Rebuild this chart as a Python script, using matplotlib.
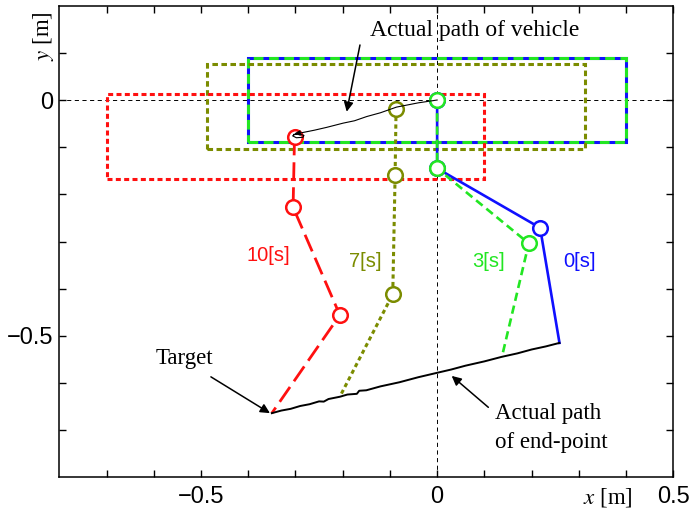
import numpy as np
import matplotlib
matplotlib.use("Agg")
import matplotlib.pyplot as plt
from matplotlib.patches import Rectangle

plt.rcParams['lines.scale_dashes'] = False
plt.rcParams['mathtext.fontset'] = 'stix'

# ---------------- data ----------------
time_labels = ['0[s]', '3[s]', '7[s]', '10[s]']
colors = ['#1010ff', '#22e622', '#7b8c00', '#ff1010']

# arm joints: vehicle base -> joint1 -> joint2 -> end-point
arm0_x = [0.0, 0.0, 0.218, 0.259]
arm0_y = [0.0, -0.145, -0.271, -0.515]
arm3_x = [0.0, 0.0, 0.194, 0.137]
arm3_y = [0.0, -0.145, -0.304, -0.545]
arm7_x = [-0.087, -0.089, -0.094, -0.206]
arm7_y = [-0.020, -0.160, -0.412, -0.629]
arm10_x = [-0.302, -0.305, -0.206, -0.350]
arm10_y = [-0.079, -0.2275, -0.456, -0.664]

# vehicle footprint centres
veh_cx = [0.0, 0.0, -0.087, -0.300]
veh_cy = [0.0, 0.0, -0.014, -0.078]
veh_w = 0.8
veh_h = 0.18

# actual path of vehicle
vpath_x = [0.0, -0.04, -0.086, -0.12, -0.149, -0.175, -0.199, -0.234, -0.26, -0.29,
           -0.300, -0.306, -0.298, -0.284, -0.282, -0.292, -0.304]
vpath_y = [0.0, -0.006, -0.015, -0.027, -0.035, -0.044, -0.049, -0.058, -0.064, -0.070,
           -0.072, -0.076, -0.080, -0.079, -0.075, -0.072, -0.073]

# actual path of end-point
epath_x = [0.259, 0.23, 0.20, 0.17, 0.137, 0.10, 0.06, 0.03, 0.0, -0.04, -0.08, -0.12,
           -0.15, -0.165, -0.17, -0.19, -0.206, -0.23, -0.24, -0.25, -0.27, -0.29, -0.31,
           -0.33, -0.35]
epath_y = [-0.515, -0.5225, -0.5290, -0.5372, -0.5445, -0.5542, -0.5633, -0.5714, -0.5784,
           -0.5878, -0.5985, -0.6072, -0.6155, -0.6165, -0.6230, -0.6245, -0.6292, -0.6340,
           -0.6395, -0.6390, -0.6450, -0.6488, -0.6548, -0.6585, -0.6640]

# ---------------- figure ----------------
fig = plt.figure(figsize=(6.93, 5.16), dpi=100)
ax = fig.add_axes([0.08557, 0.07500, 0.88600, 0.91395])
ax.set_xlim(-0.8, 0.5)
ax.set_ylim(-0.8, 0.2)

# reference lines
ax.axhline(0, color='k', lw=0.7, ls=(0, (3, 2.5)), zorder=1)
ax.axvline(0, color='k', lw=0.7, ls=(0, (3, 2.5)), zorder=1)

rect_styles = [
    dict(ls='-', lw=2.2),
    dict(ls=(0, (7, 4)), lw=2.2),
    dict(ls=(0, (4, 2.5)), lw=2.2),
    dict(ls=(0, (3.6, 2.4)), lw=2.2),
]
arm_styles = [
    dict(ls='-', lw=1.9),
    dict(ls=(0, (6, 3.5)), lw=1.9),
    dict(ls=(0, (3, 2.4)), lw=2.2),
    dict(ls=(0, (13, 5)), lw=2.0),
]
arms_x = [arm0_x, arm3_x, arm7_x, arm10_x]
arms_y = [arm0_y, arm3_y, arm7_y, arm10_y]

for i in [3, 2, 0, 1]:
    r = Rectangle((veh_cx[i] - veh_w / 2, veh_cy[i] - veh_h / 2), veh_w, veh_h,
                  fill=False, edgecolor=colors[i], zorder=2 + 0.1 * i, **rect_styles[i])
    ax.add_patch(r)

for i in [3, 2, 0, 1]:
    ax.plot(arms_x[i], arms_y[i], color=colors[i], zorder=3, **arm_styles[i])
for i in [3, 2, 0, 1]:
    ax.plot(arms_x[i][:3], arms_y[i][:3], ls='none', marker='o', ms=10.5, mew=1.8,
            mfc='white', mec=colors[i], zorder=4)

# paths
ax.plot(vpath_x, vpath_y, color='k', lw=0.8, zorder=5)
ax.annotate('', xy=(vpath_x[9] - 0.012, vpath_y[9] - 0.001), xytext=(vpath_x[9], vpath_y[9]),
            arrowprops=dict(arrowstyle='-|>', color='k', lw=0.8, mutation_scale=8,
                            shrinkA=0, shrinkB=0), zorder=5)
ax.plot(epath_x, epath_y, color='k', lw=1.4, zorder=5)

# time labels
lab_x = [0.301, 0.108, -0.153, -0.3575]
lab_y = [-0.343, -0.343, -0.343, -0.330]
for i in range(4):
    ax.text(lab_x[i], lab_y[i], time_labels[i], color=colors[i], fontsize=14.5,
            family='Liberation Sans', ha='center', va='center')

# annotations
serif = 'Liberation Serif'
arrow = dict(arrowstyle='-|>', color='k', lw=1.1, mutation_scale=14, shrinkA=0, shrinkB=0)
ax.text(0.079, 0.148, 'Actual path of vehicle', fontsize=17, family=serif,
        ha='center', va='center')
ax.annotate('', xy=(-0.1915, -0.0248), xytext=(-0.1634, 0.1167), arrowprops=arrow)
ax.text(-0.534, -0.548, 'Target', fontsize=16.5, family=serif, ha='center', va='center')
ax.annotate('', xy=(-0.354, -0.664), xytext=(-0.479, -0.587), arrowprops=arrow)
ax.text(0.1225, -0.6645, 'Actual path', fontsize=16.5, family=serif, ha='left', va='center')
ax.text(0.1225, -0.7254, 'of end-point', fontsize=16.5, family=serif, ha='left', va='center')
ax.annotate('', xy=(0.0308, -0.585), xytext=(0.1084, -0.6516), arrowprops=arrow)

# ticks
ax.set_xticks([-0.5, 0, 0.5])
ax.set_xticklabels(['\u22120.5', '0', '0.5'])
ax.set_yticks([-0.5, 0])
ax.set_yticklabels(['\u22120.5', '0'])
ax.set_xticks(np.arange(-7, 5) / 10, minor=True)
ax.set_yticks(np.arange(-7, 2) / 10, minor=True)
ax.tick_params(which='both', direction='in', top=True, right=True, length=5, width=1.0,
               labelsize=17)
ax.tick_params(axis='x', pad=6)
ax.tick_params(axis='y', pad=4)
for lbl in ax.get_xticklabels() + ax.get_yticklabels():
    lbl.set_family('Liberation Sans')
for s in ax.spines.values():
    s.set_linewidth(1.1)

ax.text(0.8936, -0.042, '$x$ [m]', transform=ax.transAxes, fontsize=16.5, family=serif,
        ha='center', va='center')
ax.text(-0.0265, 0.935, '$y$ [m]', transform=ax.transAxes, fontsize=16.5, family=serif,
        ha='center', va='center', rotation=90)

fig.savefig('out.png', dpi=100)
